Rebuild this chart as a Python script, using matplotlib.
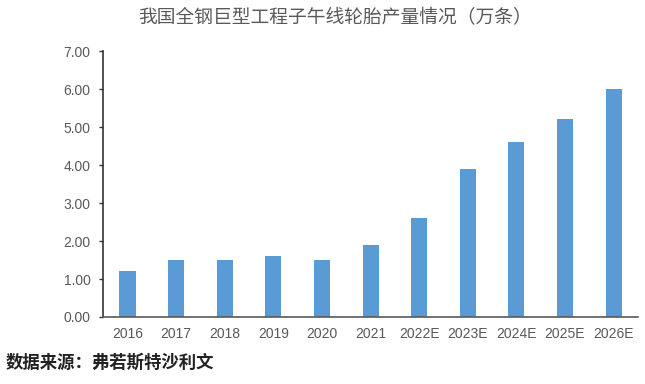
import matplotlib.pyplot as plt
import numpy as np

plt.rcParams['font.family'] = ['Noto Sans CJK SC', 'DejaVu Sans']

years = ['2016', '2017', '2018', '2019', '2020', '2021',
         '2022E', '2023E', '2024E', '2025E', '2026E']
output = [1.2, 1.5, 1.5, 1.6, 1.5, 1.9, 2.6, 3.9, 4.6, 5.2, 6.0]
y_ticks = [0, 1, 2, 3, 4, 5, 6, 7]

fig = plt.figure(figsize=(6.45, 3.84), dpi=100)
ax = fig.add_axes([0.16, 0.1745, 0.829, 0.6925])

x = np.arange(len(years))
ax.bar(x, output, width=0.33, color='#5B9BD5')

ax.set_xlim(-0.5, len(years) - 0.5)
ax.set_ylim(0, 7)
ax.set_yticks(y_ticks)
ax.set_yticklabels([f'{v:.2f}' for v in y_ticks], fontfamily='Liberation Sans',
                   fontsize=10, color='#595959')
ax.set_xticks(x)
ax.set_xticklabels(years, fontfamily='Liberation Sans', fontsize=10, color='#595959')

ax.tick_params(axis='x', length=0, pad=7)
ax.tick_params(axis='y', length=3, width=1, direction='out', pad=6, color='#333333')
for side in ['top', 'right']:
    ax.spines[side].set_visible(False)
ax.spines['left'].set_color('#333333')
ax.spines['left'].set_linewidth(1.2)
ax.spines['bottom'].set_color('#595959')
ax.spines['bottom'].set_linewidth(1.2)

fig.text(0.52, 0.955, '我国全钢巨型工程子午线轮胎产量情况（万条）', ha='center', va='center',
         fontsize=13.5, color='#595959')
fig.text(0.008, 0.055, '数据来源：弗若斯特沙利文', ha='left', va='center',
         fontsize=12.5, fontweight='bold', color='#222222')

fig.savefig('out.png', dpi=100)
